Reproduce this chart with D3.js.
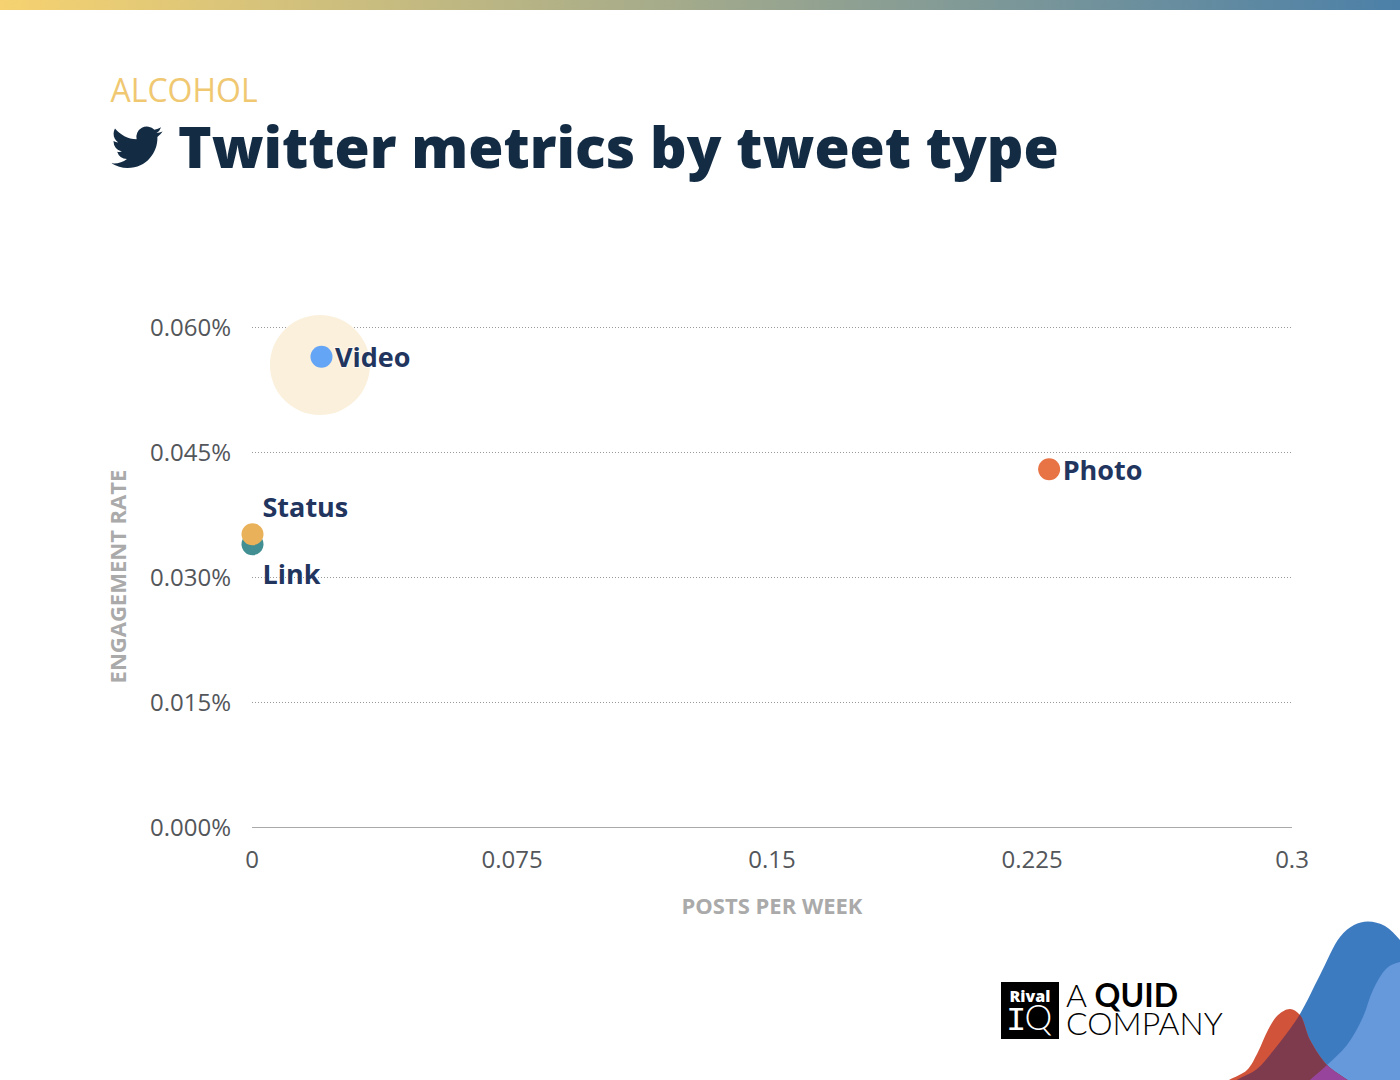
<!DOCTYPE html>
<html>
<head>
<meta charset="utf-8">
<script src="https://cdn.jsdelivr.net/npm/d3@7"></script>
<style>
  html, body { margin: 0; padding: 0; background: #fff; }
  svg { display: block; }
  text { font-family: "Open Sans", sans-serif; }
</style>
</head>
<body>
<svg id="chart"></svg>
<script>
// chart values
const tweetTypes = ['Video', 'Photo', 'Status', 'Link'];
const postsPerWeek = [0.0199, 0.2298, 0, 0];
const engagementRate = [0.000565, 0.000430, 0.000352, 0.000340];
const pointColors = ['#65a5f5', '#e87344', '#e9b159', '#418f92'];

// the pale circle behind Video
const highlightPosts = [0.0196];
const highlightRate = [0.000555];

const xTicks = [0, 0.075, 0.15, 0.225, 0.3];
const yTicks = [0, 0.00015, 0.0003, 0.00045, 0.0006];

// corner decoration outlines, first and last points sit off the canvas
const blobDark = [[1215,1095],[1235,1081],[1257,1069],[1273,1051],[1287,1033],[1300,1014],[1320,975],[1340,937],[1354,925],[1368,921.5],[1385,926],[1400,940],[1425,975],[1425,1110],[1215,1110]];
const blobLight = [[1295,1095],[1310,1080],[1327,1065],[1347,1045],[1363,1017],[1373,990],[1387,968],[1400,962],[1425,960],[1425,1110],[1295,1110]];
const blobRed = [[1215,1088],[1229,1080],[1247,1070],[1258,1052],[1268,1030],[1278,1015],[1290,1009],[1300,1015],[1310,1040],[1327,1065],[1343,1077],[1360,1090],[1360,1110],[1215,1110]];

const width = 1400;
const height = 1080;

const svg = d3.select('#chart')
  .attr('width', width)
  .attr('height', height)
  .attr('viewBox', `0 0 ${width} ${height}`);

// top gradient strip
const grad = svg.append('defs').append('linearGradient').attr('id', 'topbar');
grad.append('stop').attr('offset', '0%').attr('stop-color', '#f6d270');
grad.append('stop').attr('offset', '100%').attr('stop-color', '#4c80a8');
svg.append('rect').attr('width', width).attr('height', 10).attr('fill', 'url(#topbar)');

// heading
svg.append('text').attr('x', 110.5).attr('y', 102)
  .attr('font-size', 32).attr('fill', '#f0c872').text('ALCOHOL');

svg.append('path')
  .attr('transform', 'translate(111.5,121.7) scale(2.13)')
  .attr('fill', '#132c44')
  .attr('d', 'M23.953 4.57a10 10 0 01-2.825.775 4.958 4.958 0 002.163-2.723c-.951.555-2.005.959-3.127 1.184a4.92 4.92 0 00-8.384 4.482C7.69 8.095 4.067 6.13 1.64 3.162a4.822 4.822 0 00-.666 2.475c0 1.71.87 3.213 2.188 4.096a4.904 4.904 0 01-2.228-.616v.06a4.923 4.923 0 003.946 4.827 4.996 4.996 0 01-2.212.085 4.936 4.936 0 004.604 3.417 9.867 9.867 0 01-6.102 2.105c-.39 0-.779-.023-1.17-.067a13.995 13.995 0 007.557 2.209c9.053 0 13.998-7.496 13.998-13.985 0-.21 0-.42-.015-.63A9.935 9.935 0 0024 4.59z');

svg.append('text').attr('x', 178).attr('y', 168)
  .attr('font-size', 57).attr('font-weight', 800).attr('fill', '#132c44')
  .text('Twitter metrics by tweet type');

// scales
const x = d3.scaleLinear().domain([0, 0.3]).range([252, 1292]);
const y = d3.scaleLinear().domain([0, 0.0006]).range([827.5, 327.5]);

// y axis: dotted gridlines, no domain
const yAxis = svg.append('g')
  .attr('transform', 'translate(252,0)')
  .call(d3.axisLeft(y).tickValues(yTicks).tickSize(0).tickPadding(21).offset(0)
    .tickFormat(d3.format('.3%')));
yAxis.select('.domain').remove();
yAxis.selectAll('text').attr('font-size', 24).attr('fill', '#53565a').attr('dy', '0.36em')
  .style('font-family', '"Open Sans", sans-serif');

svg.append('g').selectAll('line')
  .data(yTicks.filter(d => d > 0))
  .join('line')
  .attr('x1', x(0)).attr('x2', x(0.3))
  .attr('y1', d => y(d)).attr('y2', d => y(d))
  .attr('stroke', '#999').attr('stroke-width', 1).attr('stroke-dasharray', '1 2');

// x axis
const xAxis = svg.append('g')
  .attr('transform', `translate(0,${y(0)})`)
  .call(d3.axisBottom(x).tickValues(xTicks).tickSize(0).tickPadding(23).offset(0)
    .tickFormat(d => String(d)));
xAxis.select('.domain').attr('stroke', '#aaa');
xAxis.selectAll('text').attr('font-size', 24).attr('fill', '#53565a')
  .style('font-family', '"Open Sans", sans-serif');

// axis titles
svg.append('text').attr('x', 772).attr('y', 914).attr('text-anchor', 'middle')
  .attr('font-size', 22).attr('font-weight', 700).attr('fill', '#aaaaaa')
  .text('POSTS PER WEEK');
svg.append('text').attr('transform', 'translate(126,576.5) rotate(-90)').attr('text-anchor', 'middle')
  .attr('font-size', 22).attr('font-weight', 700).attr('fill', '#aaaaaa')
  .text('ENGAGEMENT RATE');

// highlight + points
svg.append('g').selectAll('circle')
  .data(highlightPosts)
  .join('circle')
  .attr('cx', d => x(d))
  .attr('cy', (d, i) => y(highlightRate[i]))
  .attr('r', 50)
  .attr('fill', '#fbf0dc');

// Link goes under Status, same as the reference
const drawOrder = [3, 2, 0, 1];
svg.append('g').selectAll('circle')
  .data(drawOrder)
  .join('circle')
  .attr('cx', i => x(postsPerWeek[i]) + 0.5)
  .attr('cy', i => y(engagementRate[i]))
  .attr('r', 11)
  .attr('fill', i => pointColors[i]);

const labelDx = [14, 14, 10.5, 10.5];
const labelDy = [10.5, 10.5, -17.5, 39.5];
svg.append('g').selectAll('text')
  .data(tweetTypes)
  .join('text')
  .attr('x', (d, i) => x(postsPerWeek[i]) + labelDx[i])
  .attr('y', (d, i) => y(engagementRate[i]) + labelDy[i])
  .attr('font-size', 27).attr('font-weight', 700).attr('fill', '#22355f')
  .attr('stroke', '#fff').attr('stroke-width', 2).attr('stroke-opacity', 0.6)
  .style('paint-order', 'stroke')
  .text(d => d);

// footer logo
svg.append('rect').attr('x', 1001).attr('y', 982).attr('width', 58).attr('height', 57).attr('fill', '#000');
svg.append('text').attr('x', 1030).attr('y', 1002).attr('text-anchor', 'middle')
  .attr('font-size', 16).attr('font-weight', 800).attr('fill', '#fff').text('Rival');
svg.append('text').attr('x', 1006).attr('y', 1030)
  .attr('font-size', 35).attr('fill', '#fff')
  .call(t => t.append('tspan').style('font-family', '"Liberation Mono", monospace').attr('font-size', 34).text('I'))
  .call(t => t.append('tspan').attr('dx', -2).style('font-family', 'Lato, sans-serif').attr('font-weight', 300).text('Q'));
svg.append('text').attr('x', 1066).attr('y', 1007)
  .attr('font-size', 32).attr('fill', '#000')
  .style('font-family', 'Lato, sans-serif')
  .call(t => t.append('tspan').attr('font-weight', 300).text('A '))
  .call(t => t.append('tspan').attr('font-weight', 700).text('QUID'));
svg.append('text').attr('x', 1066).attr('y', 1035)
  .attr('font-size', 32).attr('font-weight', 300).attr('fill', '#000')
  .style('font-family', 'Lato, sans-serif').text('COMPANY');

// corner blobs
const blobLine = d3.line().curve(d3.curveCatmullRom.alpha(0.5));
svg.append('path').attr('d', blobLine(blobDark)).attr('fill', '#3d7bc1');
svg.append('path').attr('d', blobLine(blobLight)).attr('fill', '#6699db');
svg.append('path').attr('d', blobLine(blobRed)).attr('fill', '#d0533a');
svg.append('clipPath').attr('id', 'clipDark').append('path').attr('d', blobLine(blobDark));
svg.append('path').attr('d', blobLine(blobRed)).attr('fill', '#7e3b4e').attr('clip-path', 'url(#clipDark)');
svg.append('clipPath').attr('id', 'clipLight').append('path').attr('d', blobLine(blobLight));
svg.append('path').attr('d', blobLine(blobRed)).attr('fill', '#96449c').attr('clip-path', 'url(#clipLight)');
</script>
</body>
</html>
